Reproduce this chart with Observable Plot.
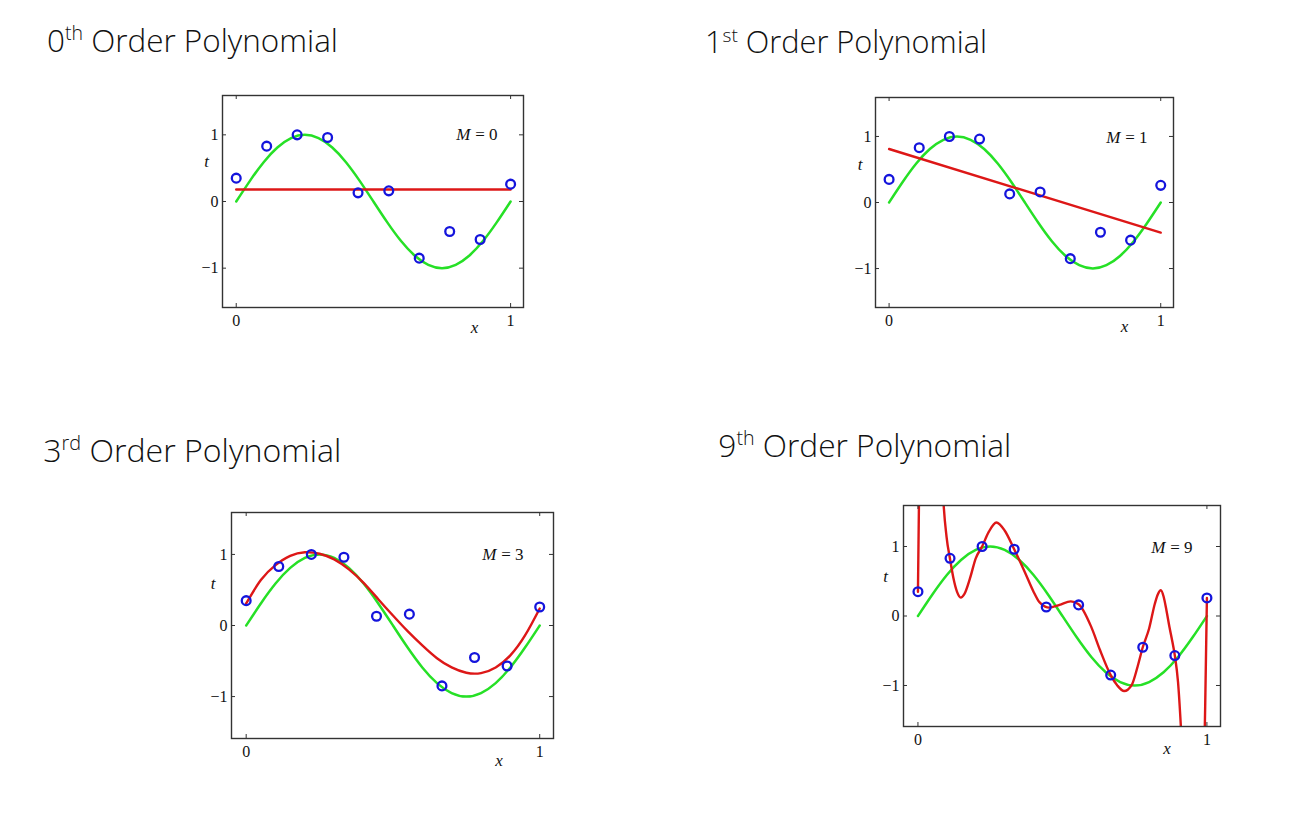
<!DOCTYPE html>
<html>
<head>
<meta charset="utf-8">
<script src="https://cdn.jsdelivr.net/npm/d3@7"></script>
<script src="https://cdn.jsdelivr.net/npm/@observablehq/plot@0.6"></script>
<style>
  html, body { margin: 0; padding: 0; background: #fff; }
  #page { position: relative; width: 1308px; height: 818px; overflow: hidden; background: #fff; }
  .panel { position: absolute; }
  #titles { position: absolute; left: 0; top: 0; pointer-events: none; }
  #titles text { font-family: "Open Sans", Lato, "Noto Sans", sans-serif; font-weight: 300; fill: #111; }
</style>
</head>
<body>
<div id="page">
  <svg id="titles" width="1308" height="818"></svg>
</div>
<script>
// ---- data ----
const xData = [0, 0.111, 0.222, 0.333, 0.444, 0.556, 0.667, 0.778, 0.889, 1.0];
const tData = [0.35, 0.83, 1.0, 0.96, 0.13, 0.16, -0.85, -0.45, -0.57, 0.26];

// true curve (green), read at steps of 0.05
const greenX = [0, 0.05, 0.1, 0.15, 0.2, 0.25, 0.3, 0.35, 0.4, 0.45, 0.5, 0.55, 0.6, 0.65, 0.7, 0.75, 0.8, 0.85, 0.9, 0.95, 1.0];
const greenT = [0, 0.31, 0.59, 0.81, 0.95, 1.0, 0.95, 0.81, 0.59, 0.31, 0, -0.31, -0.59, -0.81, -0.95, -1.0, -0.95, -0.81, -0.59, -0.31, 0];

// M = 0 fit
const fit0X = [0, 1];
const fit0T = [0.18, 0.18];
// M = 1 fit
const fit1X = [0, 1];
const fit1T = [0.81, -0.455];
// M = 3 fit
const fit3X = [0, 0.05, 0.1, 0.15, 0.2, 0.25, 0.3, 0.35, 0.4, 0.45, 0.5, 0.55, 0.6, 0.65, 0.7, 0.75, 0.8, 0.85, 0.9, 0.95, 1.0];
const fit3T = [0.31, 0.64, 0.85, 0.98, 1.03, 1.01, 0.93, 0.79, 0.60, 0.37, 0.14, -0.08, -0.28, -0.46, -0.59, -0.665, -0.67, -0.59, -0.42, -0.14, 0.24];
// M = 9 fit
const fit9X = [0, 0.004, 0.012, 0.03, 0.05, 0.07, 0.087, 0.099, 0.111, 0.1225, 0.135, 0.148, 0.16, 0.18, 0.2, 0.222, 0.245, 0.2715, 0.30, 0.333, 0.37, 0.40, 0.42, 0.44, 0.454, 0.49, 0.529, 0.556, 0.6, 0.63, 0.667, 0.69, 0.7135, 0.74, 0.76, 0.778, 0.80, 0.82, 0.83, 0.8407, 0.85, 0.86, 0.87, 0.88, 0.889, 0.90, 0.91, 0.93, 0.96, 0.98, 0.99, 0.994, 1.0];
const fit9T = [0.35, 1.8, 3.6, 5.5, 5.8, 4.2, 1.75, 1.14, 0.82, 0.55, 0.35, 0.265, 0.31, 0.54, 0.83, 1.0, 1.21, 1.345, 1.23, 0.96, 0.63, 0.35, 0.2, 0.135, 0.12, 0.16, 0.21, 0.17, -0.16, -0.49, -0.85, -1.0, -1.08, -0.99, -0.73, -0.45, -0.18, 0.18, 0.31, 0.37, 0.28, 0.08, -0.15, -0.36, -0.57, -0.95, -1.6, -3.5, -5.5, -4.5, -2.2, -1.3, 0.26];

const xTicks = [0, 1];
const yTicks = [-1, 0, 1];

const titleNums = ["0", "1", "3", "9"];
const titleSups = ["th", "st", "rd", "th"];
const titleRest = " Order Polynomial";
const orders = ["0", "1", "3", "9"];

// ---- layout (pixels) ----
const layout = [
  {left: 222, top: 95,  w: 301, h: 212, tx: 47,    tb: 51.7, tw: 291, tdx: -16,   tdy: -40,  xdx: 101.5, xdy: 20,   mdx: -26, mdy: 39,   fitX: fit0X, fitT: fit0T, curve: "linear"},
  {left: 875, top: 97,  w: 298, h: 210, tx: 705,   tb: 53.3, tw: 282, tdx: -15.5, tdy: -38,  xdx: 100,   xdy: 19.5, mdx: -26, mdy: 40.5, fitX: fit1X, fitT: fit1T, curve: "linear"},
  {left: 231, top: 512, w: 322, h: 226, tx: 43.3,  tb: 462,  tw: 298, tdx: -18.5, tdy: -41.5,xdx: 106.5, xdy: 22,   mdx: -30, mdy: 42,   fitX: fit3X, fitT: fit3T, curve: "natural"},
  {left: 903, top: 505, w: 317, h: 221, tx: 718.3, tb: 456.7,tw: 293, tdx: -18,   tdy: -39.5,xdx: 105,   xdy: 22.5, mdx: -28, mdy: 42.5, fitX: fit9X, fitT: fit9T, curve: "monotone-x"}
];

const ml = 45, mr = 10, mt = 10, mb = 40;
const page = document.getElementById("page");
const serif = "'Liberation Serif', 'DejaVu Serif', serif";
const fmt = d => (d < 0 ? "\u2212" + Math.abs(d) : String(d));

layout.forEach((p, k) => {
  const green = greenX.map((x, i) => ({x, t: greenT[i]}));
  const fit = p.fitX.map((x, i) => ({x, t: p.fitT[i]}));
  const pts = xData.map((x, i) => ({x, t: tData[i]}));
  const fw = p.w, fh = p.h;
  const eqText = "= " + orders[k];
  const plot = Plot.plot({
    width: fw + ml + mr,
    height: fh + mt + mb,
    marginLeft: ml, marginRight: mr, marginTop: mt, marginBottom: mb,
    x: {domain: [-0.05, 1.047]},
    y: {domain: [-1.59, 1.59]},
    style: {fontFamily: serif, fontSize: "16px", background: "transparent", color: "#111"},
    marks: [
      Plot.line(green, {x: "x", y: "t", stroke: "#26e026", strokeWidth: 2.5, curve: "natural", clip: true}),
      Plot.line(fit, {x: "x", y: "t", stroke: "#dd1717", strokeWidth: 2.4, curve: p.curve, clip: true}),
      Plot.dot(pts, {x: "x", y: "t", r: 4.4, stroke: "#1414dc", strokeWidth: 2.3, fill: "none"}),
      Plot.frame({stroke: "#333", strokeWidth: 1.4}),
      Plot.ruleX(xTicks, {x: d => d, insetTop: fh - 4, stroke: "#333"}),
      Plot.ruleX(xTicks, {x: d => d, insetBottom: fh - 4, stroke: "#333"}),
      Plot.ruleY(yTicks, {y: d => d, insetRight: fw - 4, stroke: "#333"}),
      Plot.ruleY(yTicks, {y: d => d, insetLeft: fw - 4, stroke: "#333"}),
      Plot.axisX({ticks: xTicks, tickFormat: fmt, tickSize: 0, tickPadding: 7, label: null, fontSize: 16, fill: "#111"}),
      Plot.axisY({ticks: yTicks, tickFormat: fmt, tickSize: 0, tickPadding: 4, label: null, fontSize: 16, fill: "#111"}),
      Plot.text(["t"], {frameAnchor: "left", dx: p.tdx, dy: p.tdy, textAnchor: "middle", lineAnchor: "middle", fontStyle: "italic", fontSize: 17}),
      Plot.text(["x"], {frameAnchor: "bottom", dx: p.xdx, dy: p.xdy, textAnchor: "middle", lineAnchor: "middle", fontStyle: "italic", fontSize: 17}),
      Plot.text([eqText], {frameAnchor: "top-right", dx: p.mdx, dy: p.mdy, textAnchor: "end", lineAnchor: "middle", fontSize: 17}),
      Plot.text(["M"], {frameAnchor: "top-right", dx: p.mdx - 27, dy: p.mdy, textAnchor: "end", lineAnchor: "middle", fontStyle: "italic", fontSize: 17})
    ]
  });
  const div = document.createElement("div");
  div.className = "panel";
  div.style.left = (p.left - ml) + "px";
  div.style.top = (p.top - mt) + "px";
  div.appendChild(plot);
  page.appendChild(div);
});

// titles
const svgNS = "http://www.w3.org/2000/svg";
const titles = document.getElementById("titles");
layout.forEach((p, k) => {
  const t = document.createElementNS(svgNS, "text");
  t.setAttribute("x", p.tx);
  t.setAttribute("y", p.tb);
  t.setAttribute("font-size", 34);
  const a = document.createElementNS(svgNS, "tspan");
  a.textContent = titleNums[k];
  const b = document.createElementNS(svgNS, "tspan");
  b.textContent = titleSups[k];
  b.setAttribute("font-size", "0.62em");
  b.setAttribute("dy", "-0.6em");
  const c = document.createElementNS(svgNS, "tspan");
  c.textContent = titleRest;
  c.setAttribute("dy", "0.372em");
  t.appendChild(a); t.appendChild(b); t.appendChild(c);
  titles.appendChild(t);
  const w = t.getBBox().width;
  if (w > 0) t.setAttribute("font-size", (34 * p.tw / w).toFixed(2));
});
</script>
</body>
</html>
